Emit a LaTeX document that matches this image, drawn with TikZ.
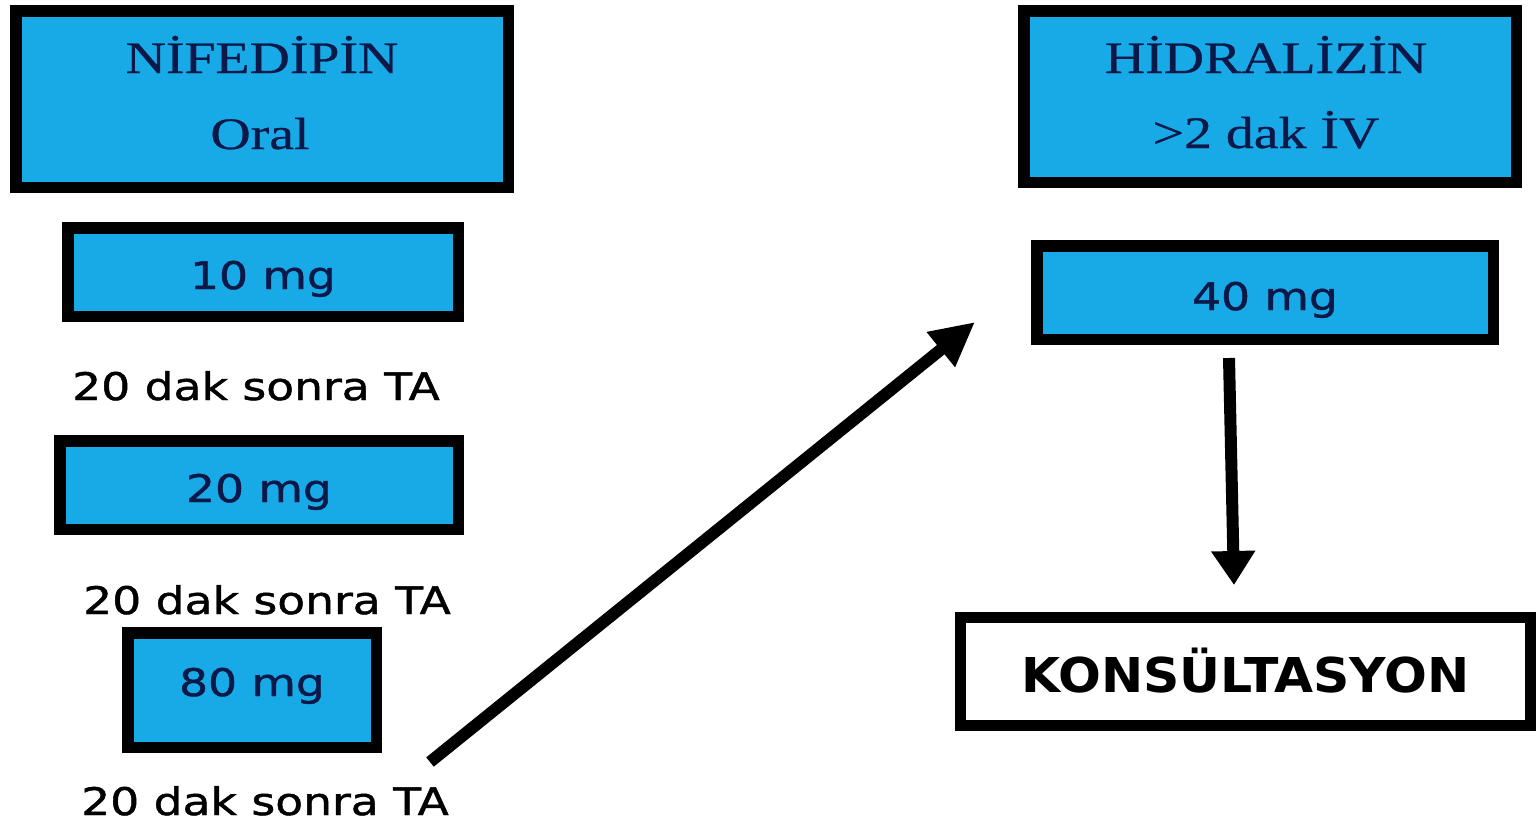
\documentclass[tikz,border=0pt]{standalone}
\usepackage{fontspec}
\usetikzlibrary{arrows.meta,calc}
\newfontfamily\serifstr[FakeStretch=1.24,FakeBold=0.6]{Liberation Serif}
\newfontfamily\sansstr[FakeStretch=1.2,FakeBold=1.2]{DejaVu Sans}
\newfontfamily\konsfont[FakeStretch=1.05]{DejaVu Sans}
\definecolor{boxblue}{RGB}{24,170,230}
\definecolor{navy}{RGB}{12,24,72}
\tikzset{
  bluebox/.style={draw=black, fill=boxblue, line width=11.5pt, rectangle, inner sep=0pt},
  whitebox/.style={draw=black, fill=white, line width=11pt, rectangle, inner sep=0pt},
  seriftxt/.style={font=\serifstr\fontsize{45}{54}\selectfont, text=navy, inner sep=0pt, anchor=base},
  dosetxt/.style={font=\sansstr\fontsize{38}{46}\selectfont, text=navy, text depth=0pt},
  notetxt/.style={font=\sansstr\fontsize{38}{46}\selectfont, text=black, inner sep=0pt, anchor=base},
  konstxt/.style={font=\konsfont\bfseries\fontsize{48}{56}\selectfont, text=black, text depth=0pt},
  bigarrow/.style={line width=12pt, -{Triangle[length=44pt,width=42pt]}}
}
\begin{document}
\begin{tikzpicture}[x=1pt,y=-1pt]
\useasboundingbox[fill=white] (0,0) rectangle (1538,827);
% left column
\node[bluebox, minimum width=492.5pt, minimum height=176.5pt] (nif) at (262,99) {};
\node[seriftxt] (nift) at (262,73) {NİFEDİPİN};
\node[seriftxt] (oral) at (260,149) {Oral};
\node[bluebox, dosetxt, minimum width=390.5pt, minimum height=88.5pt, text height=34pt] (d10) at (263,272) {10 mg};
\node[notetxt] (n1) at (256,400) {20 dak sonra TA};
\node[bluebox, dosetxt, minimum width=398.5pt, minimum height=88.5pt, text height=34pt] (d20) at (259,485) {20 mg};
\node[notetxt] (n2) at (267,614) {20 dak sonra TA};
\node[bluebox, dosetxt, minimum width=248.5pt, minimum height=114.5pt, text height=12pt] (d80) at (252,690) {80 mg};
\node[notetxt] (n3) at (265,815) {20 dak sonra TA};
% right column
\node[bluebox, minimum width=492.5pt, minimum height=171.5pt] (hid) at (1270,96.5) {};
\node[seriftxt] (hidt) at (1266,73) {HİDRALİZİN};
\node[seriftxt] (iv) at (1266,148) {>2 dak İV};
\node[bluebox, dosetxt, minimum width=456.5pt, minimum height=93.5pt, text height=35pt] (d40) at (1265,292.5) {40 mg};
\node[whitebox, konstxt, minimum width=570pt, minimum height=108pt, text height=41pt] (kons) at (1245.5,671.5) {KONSÜLTASYON};
% arrows
\coordinate (a1s) at (430,762);
\coordinate (a1e) at (975,322);
\coordinate (a2s) at (1229,358);
\coordinate (a2e) at (1234,585);
\draw[bigarrow] (a1s) -- (a1e);
\draw[line width=12pt, -{Triangle[length=34pt,width=42pt]}] (a2s) -- (a2e);
\end{tikzpicture}
\end{document}
